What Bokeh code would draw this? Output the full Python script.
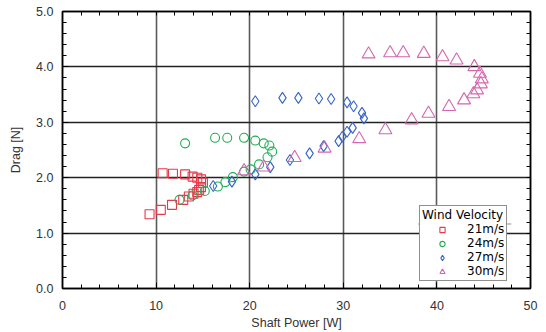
from bokeh.plotting import figure
from bokeh.models import (Range1d, LinearAxis, Legend, LegendItem, BoxAnnotation,
                          FixedTicker)
from bokeh.embed import file_html
from bokeh.resources import INLINE

# ---- data ----
v21_power = [9.3, 10.5, 11.7, 12.9, 13.5, 14.0, 14.4, 14.6, 14.8, 15.0, 14.8, 14.4, 13.9, 13.1, 11.8, 10.7]
v21_drag  = [1.34, 1.42, 1.51, 1.60, 1.66, 1.71, 1.74, 1.78, 1.83, 1.91, 1.97, 2.00, 2.02, 2.06, 2.07, 2.08]

v24_power = [12.5, 13.9, 15.2, 16.6, 17.4, 18.2, 19.4, 20.1, 21.0, 21.9, 22.4, 22.1, 21.5, 20.6, 19.4, 17.6, 16.3, 13.1]
v24_drag  = [1.60, 1.68, 1.76, 1.84, 1.92, 2.01, 2.11, 2.15, 2.24, 2.37, 2.47, 2.58, 2.62, 2.67, 2.72, 2.72, 2.72, 2.62]

v27_power = [16.1, 18.1, 20.6, 22.2, 24.3, 26.4, 27.9, 29.5, 29.9, 30.4, 31.0, 32.2, 32.0, 31.1, 30.4, 28.7, 27.4, 25.2, 23.5, 20.6]
v27_drag  = [1.85, 1.93, 2.06, 2.19, 2.32, 2.44, 2.57, 2.66, 2.74, 2.83, 2.90, 3.07, 3.17, 3.29, 3.36, 3.42, 3.43, 3.44, 3.44, 3.38]

v30_power = [19.4, 21.5, 24.8, 28.0, 31.7, 34.5, 37.3, 39.1, 41.3, 42.9, 43.9, 44.3, 44.7, 44.8, 44.6, 44.0, 42.1, 40.6, 38.6, 36.4, 35.0, 32.7]
v30_drag  = [2.12, 2.19, 2.36, 2.53, 2.70, 2.86, 3.04, 3.16, 3.28, 3.40, 3.51, 3.58, 3.69, 3.78, 3.88, 4.00, 4.12, 4.18, 4.24, 4.25, 4.25, 4.23]

series_labels = ["21m/s", "24m/s", "27m/s", "30m/s"]
legend_title = "Wind Velocity"
x_ticks = [0, 10, 20, 30, 40, 50]
y_ticks = [0, 1, 2, 3, 4, 5]
y_tick_labels = {0: "0.0", 1: "1.0", 2: "2.0", 3: "3.0", 4: "4.0", 5: "5.0"}

FONT = "Liberation Sans"
LFONT = "DejaVu Sans"
x_minor = [i * 2 for i in range(26)]
y_minor = [round(i * 0.2, 1) for i in range(26)]

p = figure(width=546, height=332, output_backend="svg", toolbar_location=None,
           x_range=Range1d(0, 50), y_range=Range1d(0, 5),
           min_border_left=62, min_border_right=16, min_border_top=11, min_border_bottom=44,
           x_axis_label="Shaft Power [W]", y_axis_label="Drag [N]")
p.background_fill_color = "white"
p.border_fill_color = "white"
p.outline_line_color = "black"
p.outline_line_width = 1.5

# grid
p.xgrid.ticker = FixedTicker(ticks=x_ticks)
p.ygrid.ticker = FixedTicker(ticks=y_ticks)
p.xgrid.grid_line_color = "#5a5a5a"
p.xgrid.grid_line_width = 1.6
p.ygrid.grid_line_color = "#222222"
p.ygrid.grid_line_width = 1.4

# axes
for ax in (p.xaxis[0], p.yaxis[0]):
    ax.axis_line_color = "black"
    ax.axis_line_width = 1.5
    ax.major_tick_in = 6
    ax.major_tick_out = 0
    ax.minor_tick_in = 4
    ax.minor_tick_out = 0
    ax.major_tick_line_color = "black"
    ax.minor_tick_line_color = "black"
    ax.major_label_text_font = FONT
    ax.major_label_text_font_size = "12.5px"
    ax.major_label_text_color = "#333333"
    ax.axis_label_text_font = FONT
    ax.axis_label_text_font_size = "12.5px"
    ax.axis_label_text_font_style = "normal"
    ax.axis_label_text_color = "#333333"

p.xaxis[0].ticker = FixedTicker(ticks=x_ticks, minor_ticks=x_minor)
p.yaxis[0].ticker = FixedTicker(ticks=y_ticks, minor_ticks=y_minor)
p.yaxis[0].major_label_overrides = y_tick_labels
p.xaxis[0].major_label_standoff = 12
p.xaxis[0].axis_label_standoff = 3
p.yaxis[0].major_label_standoff = 9
p.yaxis[0].axis_label_standoff = 10

# mirrored axes: tick marks only (all as minor ticks, so no labels are drawn)
top = LinearAxis(ticker=FixedTicker(ticks=[], minor_ticks=x_minor))
right = LinearAxis(ticker=FixedTicker(ticks=[], minor_ticks=y_minor))
for ax in (top, right):
    ax.axis_line_color = "black"
    ax.axis_line_width = 1.5
    ax.major_tick_in = 0
    ax.major_tick_out = 0
    ax.minor_tick_in = 4
    ax.minor_tick_out = 0
    ax.minor_tick_line_color = "black"
    ax.major_label_standoff = 0
p.add_layout(top, "above")
p.add_layout(right, "right")

# series
RED, GREEN, BLUE, PINK = "#e8394a", "#1fae55", "#3565c4", "#d466b0"
r1 = p.scatter(v21_power, v21_drag, marker="square", size=9, line_color=RED, fill_alpha=0, line_width=1.1)
r2 = p.scatter(v24_power, v24_drag, marker="circle", size=9, line_color=GREEN, fill_alpha=0, line_width=1.1)
r3 = p.scatter(v27_power, v27_drag, marker="diamond", size=11, line_color=BLUE, fill_alpha=0, line_width=1.1)
r4 = p.scatter(v30_power, v30_drag, marker="triangle", size=13, line_color=PINK, fill_alpha=0, line_width=1.1)

legend = Legend(items=[LegendItem(label=series_labels[0], renderers=[r1]),
                       LegendItem(label=series_labels[1], renderers=[r2]),
                       LegendItem(label=series_labels[2], renderers=[r3]),
                       LegendItem(label=series_labels[3], renderers=[r4])],
                location=(357, 7), title=legend_title)
legend.border_line_color = "#222222"
legend.border_line_width = 1.2
legend.background_fill_color = "white"
legend.background_fill_alpha = 1
legend.padding = 2
legend.spacing = 0
legend.margin = 0
legend.glyph_width = 40
legend.glyph_height = 13
legend.label_height = 13
legend.label_standoff = 5
legend.label_text_font = LFONT
legend.label_text_font_size = "12px"
legend.label_text_color = "black"
legend.title_text_font = LFONT
legend.title_text_font_size = "12px"
legend.title_text_font_style = "normal"
legend.title_text_color = "black"
legend.title_standoff = 0
p.add_layout(legend, "center")

# separator under the legend title
sep = BoxAnnotation(left=38.0, right=47.95, bottom=1.158, top=1.17,
                    fill_color="#222222", fill_alpha=1, line_alpha=0)
p.add_layout(sep)

open("out.html", "w").write(file_html(p, INLINE))
